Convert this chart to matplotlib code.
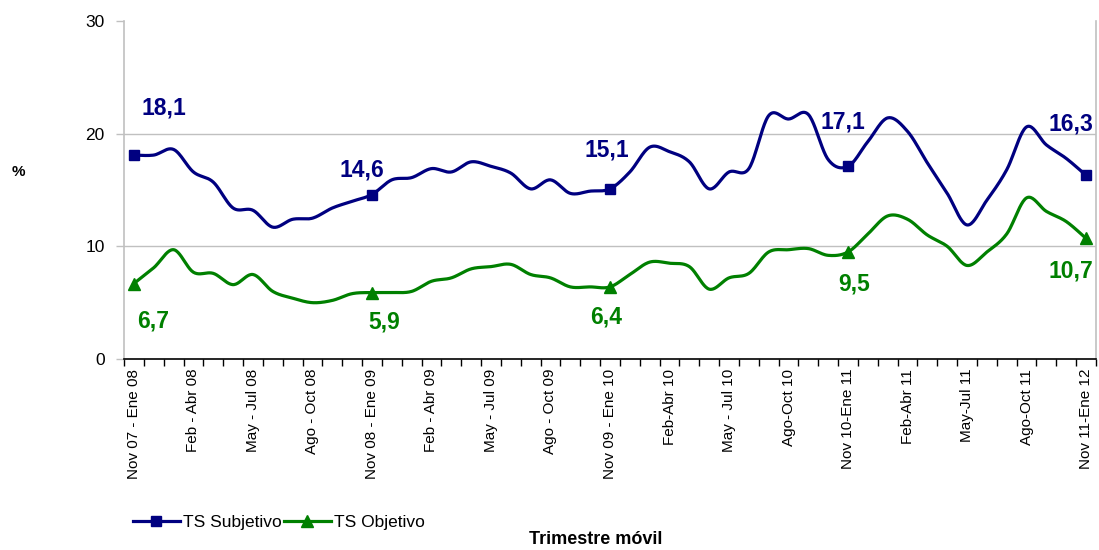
import numpy as np
import matplotlib
matplotlib.use("Agg")
import matplotlib.pyplot as plt
from matplotlib.lines import Line2D

plt.rcParams['font.family'] = ['Liberation Sans', 'DejaVu Sans']

# ---- data ----
tick_labels = ["Nov 07 - Ene 08", "Feb - Abr 08", "May - Jul 08", "Ago - Oct 08",
               "Nov 08 - Ene 09", "Feb - Abr 09", "May - Jul 09", "Ago - Oct 09",
               "Nov 09 - Ene 10", "Feb-Abr 10", "May - Jul 10", "Ago-Oct 10",
               "Nov 10-Ene 11", "Feb-Abr 11", "May-Jul 11", "Ago-Oct 11",
               "Nov 11-Ene 12"]

ts_subjetivo = [18.1, 18.1, 18.6, 16.6, 15.7, 13.4, 13.2, 11.7, 12.4, 12.5, 13.4, 14.0,
                14.6, 15.9, 16.1, 16.9, 16.6, 17.5, 17.1, 16.5, 15.1, 15.9, 14.7, 14.9,
                15.1, 16.6, 18.8, 18.4, 17.5, 15.1, 16.6, 16.9, 21.6, 21.3, 21.7, 17.7,
                17.1, 19.3, 21.4, 20.2, 17.4, 14.7, 11.9, 14.1, 16.8, 20.6, 19.0, 17.8,
                16.3]

ts_objetivo = [6.7, 8.1, 9.7, 7.7, 7.6, 6.6, 7.5, 6.0, 5.4, 5.0, 5.2, 5.8,
               5.9, 5.9, 6.0, 6.9, 7.2, 8.0, 8.2, 8.4, 7.5, 7.2, 6.4, 6.4,
               6.4, 7.5, 8.6, 8.5, 8.2, 6.2, 7.2, 7.6, 9.5, 9.7, 9.8, 9.2,
               9.5, 11.1, 12.7, 12.4, 11.0, 10.0, 8.3, 9.5, 11.1, 14.3, 13.1, 12.2,
               10.7]

labeled_idx = [0, 12, 24, 36, 48]

# ---- styling / layout ----
BLUE = "#000080"
GREEN = "#008000"
GRID = "#c0c0c0"
# pixel offsets (dx, dy) for the value labels, dy positive = up
sub_offsets = [(30, 47), (-10, 25), (-3, 39), (-5, 44), (-15, 51)]
obj_offsets = [(19, -37), (12, -29), (-4, -30), (6, -32), (-15, -33)]


def smooth(vals, steps=24):
    """Excel-style smoothed line: cubic Bezier segments through the points."""
    y = np.asarray(vals, float)
    x = np.arange(len(y), dtype=float)
    P = np.column_stack([x, y])
    Pp = np.vstack([P[0], P, P[-1]])
    t = np.linspace(0, 1, steps)[:, None]
    out = []
    for i in range(len(P) - 1):
        p0 = Pp[i + 1]
        p3 = Pp[i + 2]
        p1 = p0 + (Pp[i + 2] - Pp[i]) / 6.0
        p2 = p3 - (Pp[i + 3] - Pp[i + 1]) / 6.0
        seg = ((1 - t) ** 3) * p0 + 3 * ((1 - t) ** 2) * t * p1 + 3 * (1 - t) * t ** 2 * p2 + t ** 3 * p3
        out.append(seg if i == 0 else seg[1:])
    out = np.vstack(out)
    return out[:, 0], out[:, 1]


fig = plt.figure(figsize=(10.99, 5.5), dpi=100)
ax = fig.add_axes([124 / 1099, 1 - 359 / 550, (1096 - 124) / 1099, (359 - 21) / 550])

n = len(ts_subjetivo)
xs = np.arange(n)

for vals, color, marker, ms in [(ts_subjetivo, BLUE, 's', 7.5), (ts_objetivo, GREEN, '^', 8.5)]:
    sx, sy = smooth(vals)
    ax.plot(sx, sy, color=color, lw=2.3, solid_capstyle='round', zorder=3)
    ax.plot(xs[labeled_idx], np.asarray(vals)[labeled_idx], ls='none', marker=marker,
            ms=ms, color=color, zorder=4)

for k, i in enumerate(labeled_idx):
    dx, dy = sub_offsets[k]
    ax.annotate(f"{ts_subjetivo[i]:.1f}".replace('.', ','), (i, ts_subjetivo[i]),
                xytext=(dx, dy), textcoords='offset pixels', ha='center', va='center',
                fontsize=16.5, fontweight='bold', color=BLUE, annotation_clip=False)
    dx, dy = obj_offsets[k]
    ax.annotate(f"{ts_objetivo[i]:.1f}".replace('.', ','), (i, ts_objetivo[i]),
                xytext=(dx, dy), textcoords='offset pixels', ha='center', va='center',
                fontsize=16.5, fontweight='bold', color=GREEN, annotation_clip=False)

ax.set_xlim(-0.5, n - 0.5)
ax.set_ylim(0, 30)

# y axis
ax.set_yticks([0, 10, 20, 30])
ax.set_yticklabels(["0", "10", "20", "30"])
ax.tick_params(axis='y', length=6, width=1, color=GRID, pad=8, labelsize=12.5)
for v in [10, 20]:
    ax.axhline(v, color=GRID, lw=1, zorder=1)

# x axis: ticks between categories, labels every third category
ax.set_xticks(np.arange(0, n, 3))
ax.set_xticklabels(tick_labels, rotation=90, fontsize=11, va='top', ha='center')
ax.set_xticks(np.arange(-0.5, n, 1), minor=True)
ax.tick_params(axis='x', which='major', length=0, pad=7)
ax.tick_params(axis='x', which='minor', length=5, width=1, color='black', direction='out')

ax.spines['top'].set_visible(False)
ax.spines['left'].set_color(GRID)
ax.spines['right'].set_color(GRID)
ax.spines['bottom'].set_color('black')
ax.spines['left'].set_linewidth(1.2)
ax.spines['right'].set_linewidth(1.2)
ax.spines['bottom'].set_linewidth(1.2)

# legend
handles = [Line2D([], [], color=BLUE, lw=2.3, marker='s', ms=7.5),
           Line2D([], [], color=GREEN, lw=2.3, marker='^', ms=8.5)]
fig.legend(handles, ["TS Subjetivo", "TS Objetivo"], loc='center left',
           bbox_to_anchor=(133 / 1099, 1 - 522 / 550), ncol=2, frameon=False,
           fontsize=12.5, handlelength=2.7, handletextpad=0.2, columnspacing=0.1,
           borderpad=0, borderaxespad=0)

fig.text(596 / 1099, 1 - 540 / 550, "Trimestre móvil", ha='center', va='center',
         fontsize=13, fontweight='bold')
fig.text(18 / 1099, 1 - 172 / 550, "%", ha='center', va='center', fontsize=11,
         fontweight='bold')

fig.savefig("out.png", dpi=100)
